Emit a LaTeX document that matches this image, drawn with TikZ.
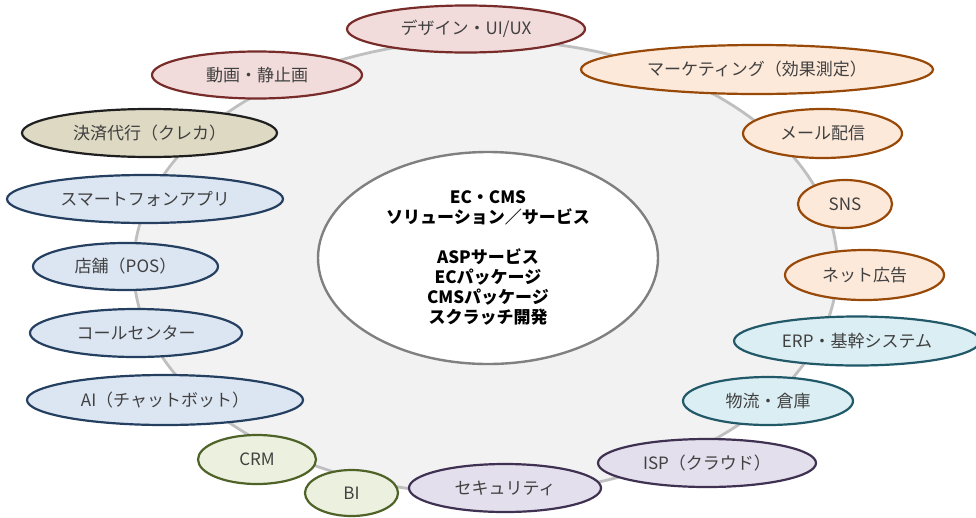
\documentclass[tikz,border=0pt]{standalone}
\usepackage{fontspec}
\setmainfont{Noto Sans CJK JP}
\usetikzlibrary{shapes.geometric}

\definecolor{ringfill}{HTML}{F2F2F2}
\definecolor{ringline}{HTML}{BFBFBF}
\definecolor{coreline}{HTML}{808080}
\definecolor{labeltext}{HTML}{404040}
\definecolor{pinkfill}{HTML}{F2DCDB}
\definecolor{pinkline}{HTML}{772C2A}
\definecolor{olivefill}{HTML}{DDD9C3}
\definecolor{oliveline}{HTML}{1F1F1F}
\definecolor{bluefill}{HTML}{DCE6F2}
\definecolor{blueline}{HTML}{243F60}
\definecolor{greenfill}{HTML}{EBF1DE}
\definecolor{greenline}{HTML}{4F6228}
\definecolor{purplefill}{HTML}{E4DFEC}
\definecolor{purpleline}{HTML}{3F3151}
\definecolor{tealfill}{HTML}{DAEEF3}
\definecolor{tealline}{HTML}{215968}
\definecolor{orangefill}{HTML}{FDE9D9}
\definecolor{orangeline}{HTML}{984807}

\tikzset{
  bubble/.style={ellipse,line width=2.2pt,inner sep=0pt,text=labeltext,
    font=\fontsize{17}{20}\selectfont},
  pinkbub/.style={bubble,draw=pinkline,fill=pinkfill},
  olivebub/.style={bubble,draw=oliveline,fill=olivefill},
  bluebub/.style={bubble,draw=blueline,fill=bluefill},
  greenbub/.style={bubble,draw=greenline,fill=greenfill},
  purplebub/.style={bubble,draw=purpleline,fill=purplefill},
  tealbub/.style={bubble,draw=tealline,fill=tealfill},
  orangebub/.style={bubble,draw=orangeline,fill=orangefill},
  sz/.style n args={2}{minimum width=#1pt,minimum height=#2pt}
}

\begin{document}
\begin{tikzpicture}[x=1pt,y=-1pt]
\useasboundingbox (0,0) rectangle (976,517);

% Outer ring
\node[ellipse,draw=ringline,fill=ringfill,line width=2.8pt,
  minimum width=704pt,minimum height=454pt] (ring) at (485.5,267) {};

% Core
\node[ellipse,draw=coreline,fill=white,line width=2.4pt,
  minimum width=340pt,minimum height=212pt,align=center,
  font=\fontsize{17}{20}\selectfont\bfseries] (core) at (488,258)
  {EC・CMS\\ソリューション／サービス\\[20pt]ASPサービス\\ECパッケージ\\CMSパッケージ\\スクラッチ開発};

% Creative
\node[pinkbub,sz={238}{47}] (design) at (466,29) {デザイン・UI/UX};
\node[pinkbub,sz={210}{47}] (movie) at (257,75) {動画・静止画};

% Payment
\node[olivebub,sz={255}{48}] (payment) at (149.5,133) {決済代行（クレカ）};

% Channels
\node[bluebub,sz={276}{48}] (app) at (145,199) {スマートフォンアプリ};
\node[bluebub,sz={185}{47}] (pos) at (125.5,266.5) {店舗（POS）};
\node[bluebub,sz={212}{48}] (call) at (136,333) {コールセンター};
\node[bluebub,sz={276}{50}] (ai) at (165,400) {AI（チャットボット）};

% Analysis
\node[greenbub,sz={118}{49}] (crm) at (257,459.5) {CRM};
\node[greenbub,sz={93}{46}] (bi) at (351.5,493) {BI};

% Infrastructure
\node[purplebub,sz={192}{48}] (security) at (505,488) {セキュリティ};
\node[purplebub,sz={218}{48}] (isp) at (707,463) {ISP（クラウド）};

% Back office
\node[tealbub,sz={170}{48}] (logistics) at (768,401) {物流・倉庫};
\node[tealbub,sz={246}{49}] (erp) at (857,341) {ERP・基幹システム};

% Promotion
\node[orangebub,sz={159}{50}] (ads) at (864.5,275) {ネット広告};
\node[orangebub,sz={94}{48}] (sns) at (845,204) {SNS};
\node[orangebub,sz={159}{49}] (mail) at (822.5,133.5) {メール配信};
\node[orangebub,sz={352}{49}] (marketing) at (757,69.5) {マーケティング（効果測定）};

\end{tikzpicture}
\end{document}
